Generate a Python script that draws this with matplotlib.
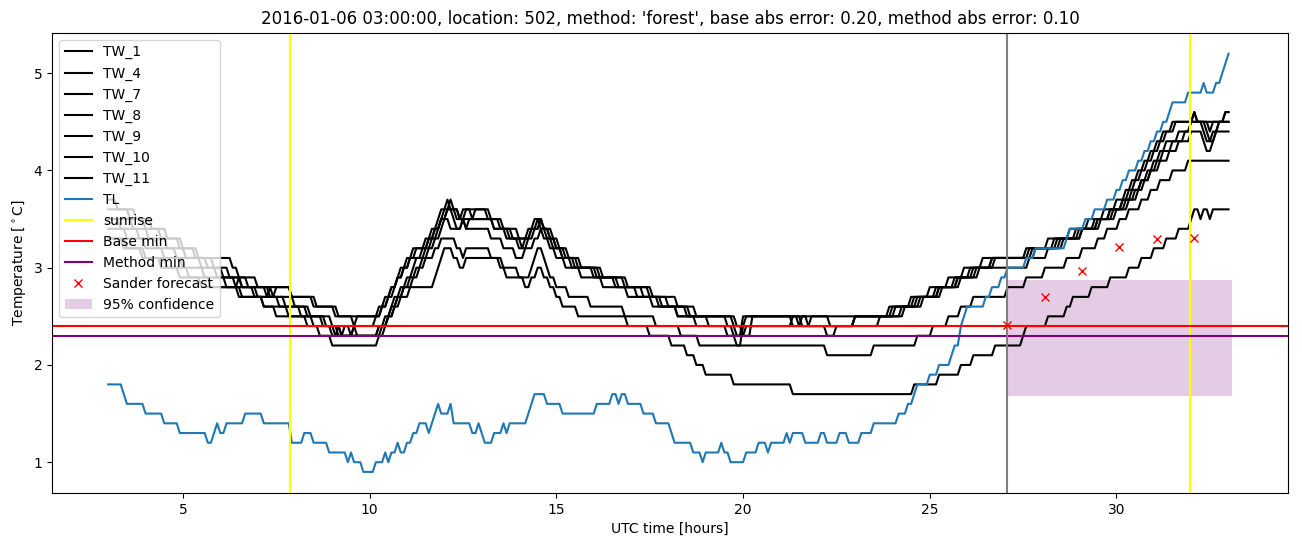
import numpy as np
import matplotlib.pyplot as plt

# 5 minute samples, hours since 2016-01-06 00:00
hours = np.arange(3 * 12, 33 * 12 + 1) / 12.0

# every series: hour where a new reading starts, and that reading
tl_t = [3.00, 3.38, 3.46, 3.99, 4.48, 4.90, 5.65, 5.80, 5.89, 5.99, 6.13, 6.64, 7.13, 7.72, 7.79, 7.88,
        8.21, 8.48, 8.71, 8.79, 8.88, 9.39, 9.47, 9.55, 9.81, 10.14, 10.38, 10.47, 10.55, 10.72, 10.80,
        10.96, 11.13, 11.37, 11.46, 11.54, 11.62, 11.70, 11.78, 11.86, 11.95, 12.13, 12.21, 12.29, 12.71,
        12.79, 12.88, 13.04, 13.12, 13.21, 13.28, 13.37, 13.46, 13.54, 13.62, 13.70, 13.79, 14.21, 14.37,
        14.45, 14.79, 14.97, 15.04, 15.13, 16.12, 16.46, 16.63, 16.71, 16.89, 17.36, 17.69, 18.06, 18.15,
        18.63, 18.88, 18.99, 19.38, 19.47, 19.65, 20.05, 20.38, 20.65, 20.74, 21.15, 21.24, 21.33, 21.64,
        22.12, 22.21, 22.61, 22.87, 23.14, 23.52, 24.18, 24.43, 24.59, 24.67, 25.03, 25.29, 25.58, 25.66,
        25.83, 25.91, 26.02, 26.46, 26.68, 26.90, 27.07, 27.57, 27.83, 28.66, 28.75, 29.16, 29.42, 29.73,
        29.96, 30.15, 30.37, 30.59, 30.78, 30.95, 31.12, 31.26, 31.44, 31.53, 31.90, 32.37, 32.45, 32.63,
        32.81, 32.93, 33.00]
tl_v = [1.8, 1.7, 1.6, 1.5, 1.4, 1.3, 1.2, 1.3, 1.4, 1.3, 1.4, 1.5, 1.4, 1.3, 1.4, 1.2,
        1.3, 1.2, 1.3, 1.2, 1.1, 1.0, 1.1, 1.0, 0.9, 1.0, 1.1, 1.0, 1.1, 1.2, 1.1,
        1.2, 1.3, 1.4, 1.3, 1.4, 1.3, 1.4, 1.5, 1.6, 1.5, 1.6, 1.5, 1.4, 1.5,
        1.3, 1.4, 1.3, 1.2, 1.3, 1.2, 1.3, 1.2, 1.3, 1.4, 1.3, 1.4, 1.5, 1.6,
        1.7, 1.6, 1.5, 1.6, 1.5, 1.6, 1.7, 1.6, 1.7, 1.6, 1.5, 1.4, 1.3, 1.2,
        1.1, 1.0, 1.1, 1.2, 1.1, 1.0, 1.1, 1.2, 1.1, 1.2, 1.3, 1.2, 1.3, 1.2,
        1.3, 1.2, 1.3, 1.2, 1.3, 1.4, 1.5, 1.6, 1.7, 1.8, 1.9, 2.0, 2.1, 2.2,
        2.4, 2.5, 2.6, 2.7, 2.8, 2.9, 3.0, 3.1, 3.2, 3.3, 3.4, 3.5, 3.6, 3.7,
        3.8, 3.9, 4.0, 4.1, 4.2, 4.3, 4.4, 4.5, 4.6, 4.7, 4.8, 4.9, 4.8, 4.9,
        5.0, 5.1, 5.2]

tw1_t = [3.00, 3.25, 3.75, 4.17, 4.58, 5.00, 5.42, 6.33, 6.50, 7.00, 7.92, 8.50, 9.08, 10.25, 10.42,
         10.58, 10.75, 10.92, 11.08, 11.25, 11.50, 11.67, 11.83, 11.92, 12.08, 12.17, 12.33, 12.50,
         13.17, 13.50, 13.83, 14.25, 14.42, 14.67, 14.83, 15.00, 15.17, 15.50, 16.00, 16.58, 17.17,
         17.75, 18.29, 19.79, 19.87, 19.96, 20.04, 21.46, 21.54, 21.62, 21.71, 21.79, 21.87, 24.33,
         24.75, 25.25, 25.75, 26.16, 26.66, 27.58, 28.16, 28.75, 29.25, 29.66, 30.00, 30.27, 30.43,
         30.60, 30.77, 30.93, 31.10, 31.27, 31.52, 32.08, 32.17, 32.93]
tw1_v = [3.7, 3.6, 3.5, 3.4, 3.3, 3.2, 3.1, 3.0, 2.9, 2.8, 2.7, 2.6, 2.5, 2.6, 2.7,
         2.8, 2.9, 3.0, 3.1, 3.2, 3.3, 3.4, 3.5, 3.6, 3.7, 3.6, 3.5, 3.6,
         3.5, 3.4, 3.3, 3.4, 3.5, 3.4, 3.3, 3.2, 3.1, 3.0, 2.9, 2.8, 2.7,
         2.6, 2.5, 2.4, 2.3, 2.4, 2.5, 2.4, 2.5, 2.4, 2.5, 2.4, 2.5, 2.6,
         2.7, 2.8, 2.9, 3.0, 3.1, 3.2, 3.3, 3.4, 3.5, 3.6, 3.7, 3.8, 3.9,
         4.0, 4.1, 4.2, 4.3, 4.4, 4.5, 4.6, 4.5, 4.6]

tw4_t = [3.00, 3.58, 4.00, 4.42, 4.92, 5.33, 5.83, 6.25, 6.75, 7.25, 7.33, 7.42, 7.50, 7.92, 8.58,
         9.17, 9.58, 9.67, 10.33, 10.50, 10.58, 10.75, 10.83, 11.00, 11.17, 11.58, 11.75, 11.92, 12.00,
         12.17, 12.25, 12.42, 12.58, 12.75, 12.83, 13.25, 13.58, 14.00, 14.33, 14.50, 14.58, 14.75,
         14.92, 15.17, 15.42, 16.08, 16.67, 17.33, 17.83, 18.46, 19.62, 19.79, 19.87, 19.96, 20.04,
         20.12, 21.46, 21.54, 22.37, 23.00, 23.91, 24.50, 25.00, 25.50, 25.91, 26.41, 27.66, 28.33,
         28.91, 29.41, 29.83, 30.18, 30.35, 30.52, 30.68, 30.85, 31.02, 31.18, 31.35, 31.60, 32.43,
         32.52, 32.68, 32.77]
tw4_v = [3.6, 3.5, 3.4, 3.3, 3.2, 3.1, 3.0, 2.9, 2.8, 2.7, 2.8, 2.7, 2.8, 2.7, 2.6,
         2.5, 2.4, 2.5, 2.6, 2.7, 2.8, 2.9, 3.0, 3.1, 3.2, 3.3, 3.4, 3.5, 3.6,
         3.7, 3.6, 3.5, 3.6, 3.5, 3.6, 3.5, 3.4, 3.3, 3.4, 3.5, 3.4, 3.3,
         3.2, 3.1, 3.0, 2.9, 2.8, 2.7, 2.6, 2.5, 2.4, 2.3, 2.2, 2.3, 2.4,
         2.5, 2.4, 2.5, 2.4, 2.5, 2.6, 2.7, 2.8, 2.9, 3.0, 3.1, 3.2, 3.3,
         3.4, 3.5, 3.6, 3.7, 3.8, 3.9, 4.0, 4.1, 4.2, 4.3, 4.4, 4.5, 4.4,
         4.3, 4.4, 4.5]

tw7_t = [3.00, 3.33, 3.83, 4.33, 4.83, 5.50, 5.92, 6.58, 7.33, 8.00, 8.42, 9.00, 9.25, 9.33, 9.50,
         9.58, 10.17, 10.33, 10.50, 10.67, 10.75, 10.92, 11.08, 11.50, 11.67, 11.83, 11.92, 12.08,
         12.42, 12.58, 12.67, 13.33, 13.67, 14.08, 14.17, 14.33, 14.58, 14.67, 14.83, 15.00, 15.25,
         15.58, 16.17, 16.83, 17.50, 18.00, 18.62, 19.12, 19.96, 20.04, 21.37, 21.46, 21.62, 21.71,
         23.00, 24.00, 24.58, 25.16, 25.66, 26.08, 26.66, 27.75, 28.41, 29.00, 29.50, 29.91, 30.27,
         30.52, 30.68, 30.85, 31.02, 31.18, 31.35, 31.68, 32.02, 32.35, 32.43, 32.60, 32.77, 32.93]
tw7_v = [3.5, 3.4, 3.3, 3.2, 3.1, 3.0, 2.9, 2.8, 2.7, 2.6, 2.5, 2.4, 2.3, 2.4, 2.3,
         2.4, 2.5, 2.6, 2.7, 2.8, 2.9, 3.0, 3.1, 3.2, 3.3, 3.4, 3.5, 3.6,
         3.5, 3.4, 3.5, 3.4, 3.3, 3.2, 3.3, 3.4, 3.5, 3.4, 3.3, 3.2, 3.1,
         3.0, 2.9, 2.8, 2.7, 2.6, 2.5, 2.4, 2.3, 2.4, 2.5, 2.4, 2.5, 2.4,
         2.5, 2.6, 2.7, 2.8, 2.9, 3.0, 3.1, 3.2, 3.3, 3.4, 3.5, 3.6, 3.7,
         3.8, 3.9, 4.0, 4.1, 4.2, 4.3, 4.4, 4.5, 4.4, 4.3, 4.4, 4.5, 4.6]

tw8_t = [3.00, 3.67, 4.08, 4.58, 5.08, 5.67, 6.08, 6.42, 6.50, 6.58, 7.00, 7.75, 8.33, 8.83, 9.00,
         9.17, 9.25, 10.25, 10.42, 10.58, 10.67, 10.83, 11.00, 11.17, 11.25, 11.42, 11.58, 11.75, 11.92,
         12.08, 12.25, 12.33, 12.50, 13.33, 13.75, 14.00, 14.25, 14.42, 14.58, 14.67, 14.92, 15.08,
         15.33, 15.67, 16.25, 16.92, 17.58, 18.21, 18.79, 19.87, 19.96, 20.21, 20.29, 21.37, 23.00,
         24.08, 24.66, 25.25, 25.75, 26.25, 26.75, 27.83, 28.50, 29.08, 29.58, 30.00, 30.35, 30.60,
         30.77, 30.93, 31.10, 31.27, 31.52, 31.85, 32.02, 32.10, 32.18, 32.52, 32.60]
tw8_v = [3.5, 3.4, 3.3, 3.2, 3.1, 3.0, 2.9, 2.8, 2.9, 2.8, 2.7, 2.6, 2.5, 2.4, 2.3,
         2.4, 2.3, 2.4, 2.5, 2.6, 2.7, 2.8, 2.9, 3.0, 3.1, 3.2, 3.3, 3.4, 3.5,
         3.6, 3.5, 3.4, 3.5, 3.4, 3.3, 3.2, 3.3, 3.4, 3.5, 3.4, 3.3, 3.2,
         3.1, 3.0, 2.9, 2.8, 2.7, 2.6, 2.5, 2.4, 2.3, 2.4, 2.5, 2.4, 2.5,
         2.6, 2.7, 2.8, 2.9, 3.0, 3.1, 3.2, 3.3, 3.4, 3.5, 3.6, 3.7, 3.8,
         3.9, 4.0, 4.1, 4.2, 4.3, 4.4, 4.5, 4.6, 4.5, 4.4, 4.5]

tw9_t = [3.00, 3.50, 4.00, 4.50, 5.00, 5.58, 6.17, 6.92, 7.58, 8.17, 8.75, 9.17, 9.58, 9.67, 10.25,
         10.50, 10.67, 10.75, 10.92, 11.08, 11.25, 11.42, 11.58, 11.75, 11.92, 12.00, 12.17, 12.50,
         12.58, 13.25, 13.58, 13.92, 14.17, 14.42, 14.58, 14.67, 14.83, 15.00, 15.25, 15.67, 16.25,
         16.92, 17.58, 18.21, 18.79, 19.62, 19.71, 19.79, 20.12, 22.29, 22.46, 23.66, 24.25, 24.83,
         25.33, 25.83, 26.33, 27.66, 28.16, 28.58, 29.08, 29.50, 29.83, 30.18, 30.43, 30.68, 30.93,
         31.18, 31.43, 31.68, 32.02, 32.35, 32.43, 32.60, 32.68]
tw9_v = [3.4, 3.3, 3.2, 3.1, 3.0, 2.9, 2.8, 2.7, 2.6, 2.5, 2.4, 2.3, 2.4, 2.3, 2.4,
         2.5, 2.6, 2.7, 2.8, 2.9, 3.0, 3.1, 3.2, 3.3, 3.4, 3.5, 3.4, 3.5,
         3.4, 3.3, 3.2, 3.1, 3.2, 3.3, 3.4, 3.3, 3.2, 3.1, 3.0, 2.9, 2.8,
         2.7, 2.6, 2.5, 2.4, 2.3, 2.2, 2.3, 2.4, 2.3, 2.4, 2.5, 2.6, 2.7,
         2.8, 2.9, 3.0, 3.1, 3.2, 3.3, 3.4, 3.5, 3.6, 3.7, 3.8, 3.9, 4.0,
         4.1, 4.2, 4.3, 4.4, 4.3, 4.2, 4.3, 4.4]

tw10_t = [3.00, 3.42, 3.92, 4.42, 4.92, 5.50, 6.50, 7.17, 7.83, 8.50, 9.08, 10.33, 10.50, 10.58, 10.75,
          10.92, 11.17, 11.33, 11.50, 11.75, 11.92, 12.33, 12.50, 12.58, 13.25, 13.50, 14.00, 14.33,
          14.42, 14.50, 14.67, 14.75, 14.83, 15.00, 15.33, 15.92, 16.83, 17.67, 18.37, 18.87, 22.29,
          23.50, 24.66, 25.08, 25.50, 25.83, 26.16, 27.08, 27.58, 28.08, 28.66, 29.08, 29.50, 29.75,
          30.10, 30.35, 30.68, 30.93, 31.18, 31.52, 31.93]
tw10_v = [3.3, 3.2, 3.1, 3.0, 2.9, 2.8, 2.7, 2.6, 2.5, 2.4, 2.3, 2.4, 2.5, 2.6, 2.7,
          2.8, 2.9, 3.0, 3.1, 3.2, 3.3, 3.2, 3.1, 3.2, 3.1, 3.0, 2.9, 3.0,
          3.1, 3.2, 3.1, 3.0, 2.9, 2.8, 2.7, 2.6, 2.5, 2.4, 2.3, 2.2, 2.1,
          2.2, 2.3, 2.4, 2.5, 2.6, 2.7, 2.8, 2.9, 3.0, 3.1, 3.2, 3.3, 3.4,
          3.5, 3.6, 3.7, 3.8, 3.9, 4.0, 4.1]

tw11_t = [3.00, 3.50, 4.00, 4.58, 5.17, 5.75, 6.58, 7.17, 7.50, 8.33, 8.67, 9.00, 10.25, 10.42, 10.50,
          10.67, 10.83, 11.08, 11.75, 11.83, 11.92, 12.00, 12.25, 12.42, 12.58, 13.58, 13.67, 14.17,
          14.33, 14.50, 14.67, 14.83, 15.00, 15.17, 15.58, 16.92, 17.50, 18.12, 18.46, 18.71, 19.04,
          19.71, 21.37, 24.58, 25.25, 25.83, 26.16, 26.75, 27.50, 27.58, 28.16, 28.66, 28.83, 29.33,
          29.83, 30.35, 30.68, 31.02, 31.35, 31.68, 32.02, 32.10, 32.27, 32.35, 32.52, 32.60]
tw11_v = [3.3, 3.2, 3.1, 3.0, 2.9, 2.8, 2.7, 2.6, 2.5, 2.4, 2.3, 2.2, 2.3, 2.4, 2.5,
          2.6, 2.7, 2.8, 2.9, 3.0, 3.1, 3.2, 3.1, 3.0, 3.1, 3.0, 2.9, 2.8,
          2.9, 3.0, 2.9, 2.8, 2.7, 2.6, 2.5, 2.4, 2.3, 2.2, 2.1, 2.0, 1.9,
          1.8, 1.7, 1.8, 1.9, 2.0, 2.1, 2.2, 2.3, 2.4, 2.5, 2.6, 2.7, 2.8,
          2.9, 3.0, 3.1, 3.2, 3.3, 3.4, 3.5, 3.6, 3.5, 3.6, 3.5, 3.6]

tw_names = ['TW_1', 'TW_4', 'TW_7', 'TW_8', 'TW_9', 'TW_10', 'TW_11']
tw_changes = [(tw1_t, tw1_v), (tw4_t, tw4_v), (tw7_t, tw7_v), (tw8_t, tw8_v),
              (tw9_t, tw9_v), (tw10_t, tw10_v), (tw11_t, tw11_v)]

sunrise = [7.88, 31.96]
forecast_start = 27.08
base_min = 2.4
method_min = 2.3
sander_hours = [27.08, 28.08, 29.08, 30.08, 31.08, 32.08]
sander_vals = [2.41, 2.70, 2.97, 3.21, 3.30, 3.31]
conf_hours = [27.08, 33.08]
conf_low = 1.68
conf_high = 2.87


def expand(t, v):
    # hold each reading until the next one starts
    idx = np.searchsorted(np.round(np.array(t) * 12), np.round(hours * 12), side='right') - 1
    return np.array(v)[idx]


fig, ax = plt.subplots(figsize=(13.02, 5.47), dpi=100)
fig.subplots_adjust(left=0.040, right=0.989, bottom=0.099, top=0.940)

for name, (t, v) in zip(tw_names, tw_changes):
    ax.plot(hours, expand(t, v), color='black', label=name)
ax.plot(hours, expand(tl_t, tl_v), color='C0', label='TL')

ax.axvline(sunrise[0], color='yellow', label='sunrise')
ax.axvline(sunrise[1], color='yellow')
ax.axhline(base_min, color='red', label='Base min')
ax.axhline(method_min, color='purple', label='Method min')
ax.axvline(forecast_start, color='grey')
ax.plot(sander_hours, sander_vals, 'x', color='red', label='Sander forecast')
ax.fill_between(conf_hours, conf_low, conf_high, color='purple', alpha=0.2, linewidth=0,
                label='95% confidence')

ax.legend(loc='upper left')
ax.set_xlabel('UTC time [hours]')
ax.set_ylabel('Temperature [$^\\circ$C]')
ax.set_title("2016-01-06 03:00:00, location: 502, method: 'forest', "
             "base abs error: 0.20, method abs error: 0.10")

plt.savefig('out.png')
